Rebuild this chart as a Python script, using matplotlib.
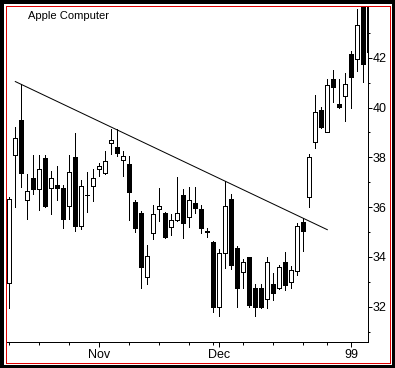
import matplotlib
matplotlib.use('Agg')
import matplotlib.pyplot as plt
import matplotlib.patches as mpatches
import numpy as np
import pandas as pd

# ---------------- data ----------------
title = "Apple Computer"
start_date = '1998-10-12'
end_date = '1999-01-07'
holidays = ['1998-11-26', '1998-12-25', '1999-01-01']

opens = [32.94, 38.08, 39.50, 36.27, 37.16, 36.71, 37.96, 36.75, 36.89, 36.75,
         36.06, 38.00, 35.25, 36.49, 36.84, 37.52, 37.38, 38.56, 38.40, 37.88,
         37.73, 36.22, 35.75, 33.18, 34.95, 35.94, 35.75, 35.21, 35.48, 36.49,
         35.59, 36.18, 35.91, 35.01, 34.61, 32.00, 34.14, 36.33, 34.35, 33.41,
         33.98, 32.74, 32.74, 32.30, 32.90, 32.76, 33.78, 32.98, 33.43, 35.39,
         36.39, 38.63, 39.90, 39.00, 41.14, 40.13, 40.47, 42.15, 41.94, 44.30,
         44.50]
highs = [36.42, 39.20, 40.93, 37.32, 38.09, 38.09, 38.09, 37.45, 37.65, 36.90,
         38.09, 38.96, 37.10, 37.42, 37.52, 37.78, 38.25, 39.14, 39.12, 38.24,
         38.06, 36.29, 35.84, 34.48, 36.08, 36.75, 35.82, 35.71, 37.20, 36.71,
         36.82, 36.82, 36.08, 35.17, 34.64, 34.32, 37.05, 36.53, 34.44, 33.90,
         33.98, 32.91, 32.91, 34.01, 33.34, 33.67, 34.21, 33.63, 35.37, 35.55,
         38.13, 40.50, 40.03, 41.14, 41.51, 41.14, 41.37, 42.27, 43.94, 44.50,
         44.60]
lows = [31.94, 36.02, 36.82, 35.51, 36.51, 35.88, 36.02, 35.73, 36.27, 35.15,
        35.51, 35.05, 35.12, 35.82, 36.26, 37.25, 37.32, 38.12, 38.06, 37.26,
        35.48, 35.01, 32.76, 32.91, 34.71, 35.45, 34.75, 34.88, 35.45, 34.75,
        35.19, 35.75, 34.95, 34.81, 31.78, 31.64, 33.54, 33.51, 32.00, 32.74,
        32.00, 31.64, 31.94, 31.94, 32.27, 32.70, 32.67, 32.76, 33.27, 34.25,
        36.02, 38.39, 39.16, 39.00, 40.23, 39.99, 39.47, 39.99, 41.48, 41.01,
        42.00]
closes = [36.31, 38.76, 37.38, 36.63, 36.71, 37.52, 36.06, 37.16, 36.75, 35.51,
          37.42, 35.25, 36.85, 36.50, 37.16, 37.64, 37.85, 38.69, 38.18, 38.06,
          36.62, 35.15, 33.58, 34.04, 35.71, 36.04, 34.81, 35.48, 35.75, 35.35,
          36.29, 35.95, 35.15, 35.03, 31.98, 34.14, 36.04, 33.67, 32.76, 33.78,
          32.07, 32.00, 32.00, 33.78, 32.54, 33.58, 32.87, 33.47, 35.24, 35.05,
          38.00, 39.81, 39.23, 40.90, 40.81, 40.03, 40.93, 41.24, 43.31, 41.73,
          42.23]

# trendline: through the highs of two candles, drawn between two days
trend_anchor_days = [2, 49]
trend_span_days = [1, 53]

y_major = [32, 34, 36, 38, 40, 42]
y_minor = [31, 33, 35, 37, 39, 41, 43]
month_labels = ['Nov', 'Dec', '99']

# ---------------- figure ----------------
W, H = 395, 368
fig = plt.figure(figsize=(W / 100, H / 100), dpi=100)
fig.patch.set_facecolor('black')
PX = 0.72  # one pixel in points

# white inner area and red frame line
fig.patches.append(mpatches.Rectangle((3.5 / W, 3.5 / H), (391.5 - 3.5) / W, (364.5 - 3.5) / H,
                                      transform=fig.transFigure, facecolor='white',
                                      edgecolor='none', zorder=-10))
fig.patches.append(mpatches.Rectangle((5.5 / W, (H - 362.5) / H), (389.5 - 5.5) / W, (362.5 - 5.5) / H,
                                      transform=fig.transFigure, facecolor='none',
                                      edgecolor='#e00000', linewidth=PX, zorder=10,
                                      antialiased=False))

ax = fig.add_axes([6 / W, (H - 342) / H, (368 - 6) / W, (342 - 6) / H])
ax.set_facecolor('none')

dates = pd.bdate_range(start_date, end_date)
dates = dates[~dates.isin(pd.to_datetime(holidays))]
idx = np.arange(len(dates))

o = np.array(opens); h = np.array(highs); l = np.array(lows); c = np.array(closes)

ax.vlines(idx, l, h, color='black', linewidth=PX, zorder=2, antialiased=False)
body_bottom = np.minimum(o, c)
body_height = np.abs(c - o)
colors = ['white' if cc >= oo else 'black' for oo, cc in zip(o, c)]
ax.bar(idx, body_height, bottom=body_bottom, width=0.72, color=colors,
       edgecolor='black', linewidth=PX, zorder=3, antialiased=False)

# trendline
a0, a1 = trend_anchor_days
slope = (h[a1] - h[a0]) / (a1 - a0)
tx = np.array(trend_span_days, dtype=float)
ty = h[a0] + slope * (tx - a0)
ax.plot(tx, ty, color='black', linewidth=PX, zorder=4)

ax.set_xlim(-0.55, 59.78)
ax.set_ylim(30.58, 44.08)

# spines
for s in ['left', 'top']:
    ax.spines[s].set_visible(False)
for s in ['bottom', 'right']:
    ax.spines[s].set_linewidth(PX)
    ax.spines[s].set_color('black')
    ax.spines[s].set_antialiased(False)

# y axis on right
ax.yaxis.tick_right()
ax.set_yticks(y_major)
ax.set_yticks(y_minor, minor=True)
ax.set_yticklabels([str(v) for v in y_major])

# x ticks: weekly minor, monthly major
week_ticks = [int(i) for i in idx
              if i == 0 or dates[i].isocalendar()[1] != dates[i - 1].isocalendar()[1]]
month_ticks = [int(i) for i in idx if i > 0 and dates[i].month != dates[i - 1].month]
ax.set_xticks(month_ticks)
ax.set_xticklabels(month_labels)
ax.set_xticks(week_ticks, minor=True)

font = 'Liberation Sans'
ax.tick_params(axis='y', which='major', direction='out', length=4 * PX, width=PX,
               pad=1 * PX, labelsize=9, colors='black')
ax.tick_params(axis='y', which='minor', direction='out', length=2.5 * PX, width=PX)
ax.tick_params(axis='x', which='major', direction='out', length=5 * PX, width=PX,
               pad=1.5 * PX, labelsize=9, colors='black')
ax.tick_params(axis='x', which='minor', direction='out', length=2.7 * PX, width=PX)
for lab in ax.get_xticklabels() + ax.get_yticklabels():
    lab.set_fontfamily(font)

fig.text(28 / W, (H - 19.3) / H, title, fontsize=8, family=font, color='black',
         ha='left', va='baseline')

fig.savefig('out.png', dpi=100, facecolor=fig.get_facecolor())
